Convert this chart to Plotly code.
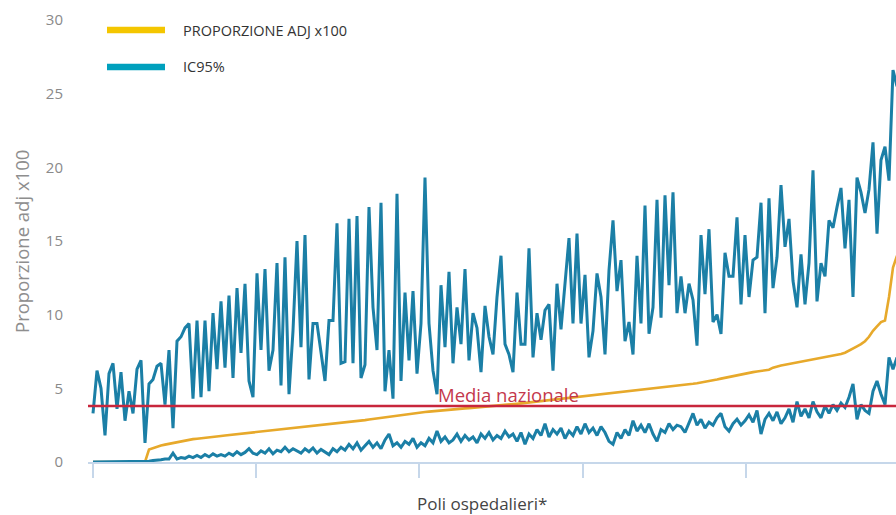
import plotly.graph_objects as go

# ---- data ----
proporzione = [
    0, 0, 0, 0, 0, 0, 0, 0, 0, 0, 0, 0, 0, 0,
    0.85, 0.95, 1.05, 1.12, 1.18, 1.24, 1.3, 1.35, 1.4, 1.45, 1.5, 1.55, 1.58, 1.62, 1.65, 1.68,
    1.71, 1.74, 1.77, 1.8, 1.83, 1.86, 1.89, 1.92, 1.95, 1.98, 2.0, 2.03, 2.06, 2.08, 2.1, 2.13,
    2.16, 2.19, 2.22, 2.25, 2.28, 2.31, 2.34, 2.37, 2.4, 2.43, 2.46, 2.48, 2.5, 2.53, 2.56, 2.59,
    2.62, 2.65, 2.68, 2.72, 2.76, 2.8, 2.84, 2.88, 2.92, 2.96, 3.0, 3.04, 3.08, 3.12, 3.16, 3.2,
    3.24, 3.27, 3.3, 3.33, 3.36, 3.39, 3.42, 3.45, 3.47, 3.5, 3.52, 3.55, 3.57, 3.6, 3.62, 3.64,
    3.66, 3.68, 3.7, 3.72, 3.74, 3.76, 3.78, 3.8, 3.83, 3.86, 3.89, 3.92, 3.95, 3.98, 4.01, 4.04,
    4.07, 4.1, 4.13, 4.16, 4.19, 4.22, 4.25, 4.28, 4.31, 4.34, 4.37, 4.4, 4.43, 4.46, 4.49, 4.52,
    4.55, 4.58, 4.61, 4.64, 4.67, 4.7, 4.73, 4.76, 4.79, 4.82, 4.85, 4.88, 4.91, 4.94, 4.97, 5.0,
    5.03, 5.06, 5.09, 5.12, 5.15, 5.19, 5.23, 5.27, 5.31, 5.35, 5.39, 5.44, 5.49, 5.54, 5.6, 5.66,
    5.72, 5.78, 5.84, 5.9, 5.95, 6.0, 6.05, 6.1, 6.14, 6.18, 6.22, 6.26, 6.4, 6.5, 6.55, 6.6,
    6.65, 6.7, 6.75, 6.8, 6.85, 6.9, 6.95, 7.0, 7.05, 7.1, 7.15, 7.2, 7.26, 7.33, 7.42, 7.55,
    7.7, 7.85, 8.0, 8.2, 8.5, 8.9, 9.2, 9.5, 9.6, 11.2, 13.2, 14.0,
]

ic95_sup = [
    3.3, 6.2, 5.0, 1.8, 6.0, 6.7, 3.6, 6.1, 2.8, 4.8, 3.3, 6.3, 6.9, 1.3,
    5.3, 5.6, 6.5, 6.7, 3.9, 7.6, 2.3, 8.2, 8.5, 9.1, 9.4, 4.3, 9.6, 4.4, 9.6, 4.8,
    10.1, 6.3, 10.9, 6.4, 11.3, 5.7, 11.8, 7.4, 12.1, 5.5, 4.4, 12.8, 7.6, 13.1, 6.2, 7.6,
    13.5, 5.2, 13.9, 4.6, 8.9, 15.0, 7.8, 15.4, 5.6, 9.4, 9.4, 7.4, 5.5, 9.6, 9.6, 16.2,
    6.7, 6.8, 16.5, 6.7, 16.7, 5.7, 6.6, 17.3, 10.5, 7.6, 17.6, 4.8, 7.6, 4.3, 18.2, 5.5,
    11.5, 6.9, 11.6, 6.0, 9.4, 19.3, 9.4, 6.2, 4.6, 12.0, 7.8, 12.9, 6.7, 10.5, 8.0, 13.1,
    6.9, 10.1, 9.1, 6.1, 10.6, 8.5, 7.3, 11.2, 14.0, 8.0, 7.3, 6.1, 11.5, 8.0, 8.0, 14.5,
    7.1, 10.1, 8.3, 10.3, 10.7, 6.2, 12.1, 9.0, 12.2, 15.2, 9.4, 15.5, 9.4, 12.7, 7.1, 8.9,
    12.8, 11.2, 7.3, 13.0, 16.4, 11.6, 13.7, 8.2, 9.5, 7.3, 14.0, 9.4, 17.4, 8.7, 10.5, 17.8,
    9.8, 18.1, 12.0, 18.3, 10.1, 12.6, 10.1, 12.1, 11.0, 7.9, 15.4, 11.4, 15.8, 9.5, 10.0, 8.7,
    14.2, 12.6, 12.6, 16.6, 10.7, 15.4, 11.2, 13.7, 13.9, 17.6, 10.1, 17.9, 11.8, 13.9, 18.8, 14.6,
    16.5, 12.3, 10.5, 14.1, 10.7, 13.5, 19.8, 10.9, 13.5, 12.6, 16.4, 15.9, 17.3, 18.6, 14.5, 17.8,
    11.2, 19.3, 18.3, 16.9, 18.5, 21.7, 15.5, 20.5, 21.4, 19.1, 26.6, 25.5,
]

ic95_inf = [
    0, 0, 0, 0, 0, 0, 0, 0, 0, 0, 0, 0, 0, 0,
    0.05, 0.1, 0.1, 0.15, 0.2, 0.2, 0.6, 0.2, 0.3, 0.25, 0.4, 0.3, 0.45, 0.3, 0.5, 0.35,
    0.55, 0.4, 0.5, 0.4, 0.6, 0.45, 0.7, 0.5, 0.65, 0.9, 0.6, 0.5, 0.75, 0.6, 0.9, 0.55,
    0.8, 0.7, 1.0, 0.7, 0.9, 0.75, 0.6, 0.9, 0.7, 0.95, 0.6, 0.85, 0.7, 0.5, 0.9, 0.7,
    1.0, 0.8, 1.2, 0.9, 1.3, 0.8, 1.1, 1.4, 1.0, 1.3, 0.9, 1.5, 1.9, 1.1, 1.3, 1.0,
    1.4, 1.2, 1.6, 1.0, 1.3, 1.1, 1.6, 1.3, 2.1, 1.4, 1.7, 1.3, 1.5, 1.9, 1.4, 1.8,
    1.5, 1.7, 1.3, 1.9, 1.6, 2.0, 1.5, 1.8, 1.6, 2.1, 1.7, 1.9, 1.4, 2.0, 1.2, 1.9,
    1.6, 2.2, 1.8, 2.6, 1.7, 2.2, 1.9, 2.3, 1.6, 2.1, 1.8, 2.4, 1.9, 2.6, 2.0, 2.3,
    1.8, 2.4, 2.0, 1.4, 1.2, 2.0, 1.6, 2.2, 1.8, 2.8, 2.1, 2.5, 2.0, 2.6, 1.9, 1.4,
    2.2, 2.0, 2.6, 2.2, 2.5, 2.4, 2.0, 2.7, 3.3, 2.5, 2.9, 2.3, 2.7, 2.5, 3.0, 3.3,
    2.4, 2.1, 2.6, 2.9, 2.5, 2.8, 3.2, 2.7, 3.5, 1.9, 2.9, 3.3, 2.8, 3.4, 2.6, 3.0,
    3.6, 2.7, 4.1, 3.1, 3.6, 3.0, 4.1, 3.4, 3.0, 3.8, 3.3, 3.9, 3.5, 4.0, 3.7, 4.4,
    5.3, 2.9, 3.9, 3.5, 3.3, 4.8, 5.5, 4.6, 3.9, 7.1, 6.3, 7.1,
]

media_nazionale = 3.8
y_ticks = [0, 5, 10, 15, 20, 25, 30]
x_ticks = [0, 40.8, 81.6, 122.4, 163.2]
poli = list(range(len(proporzione)))

BLUE = "#1b7fa6"
ORANGE = "#e7a92b"
RED = "#c8263c"

PW, PH = 808.0, 442.0          # plot area size
PL, PT = 88.0, 20.0            # plot area left/top in page pixels
def px_x(X):
    return (X - PL) / PW
def px_y(Y):
    return (PT + PH - Y) / PH

fig = go.Figure()
fig.add_trace(go.Scatter(x=poli, y=proporzione, mode="lines",
                         line=dict(color=ORANGE, width=2.6), name="PROPORZIONE ADJ x100",
                         showlegend=False, hoverinfo="skip"))
fig.add_trace(go.Scatter(x=poli, y=ic95_inf, mode="lines",
                         line=dict(color=BLUE, width=3), name="IC95%",
                         showlegend=False, hoverinfo="skip"))
fig.add_trace(go.Scatter(x=poli, y=ic95_sup, mode="lines",
                         line=dict(color=BLUE, width=3), name="IC95%",
                         showlegend=False, hoverinfo="skip"))

# national mean line
fig.add_shape(type="line", xref="paper", x0=0, x1=1, yref="y",
              y0=media_nazionale, y1=media_nazionale,
              line=dict(color=RED, width=2.6), layer="above")
fig.add_annotation(x=85.8, y=media_nazionale, xref="x", yref="y",
                   text="Media nazionale", showarrow=False,
                   xanchor="left", yanchor="bottom", yshift=-3,
                   font=dict(family="Open Sans", size=18.5, color="#c4384c"))

# custom legend
legend_items = [("PROPORZIONE ADJ x100", "#f4c600", 30), ("IC95%", "#00a0bd", 67)]
for label, col, ypx in legend_items:
    yp = px_y(ypx)
    fig.add_shape(type="line", xref="paper", yref="paper",
                  x0=px_x(107), x1=px_x(165), y0=yp, y1=yp,
                  line=dict(color=col, width=6.5))
    fig.add_annotation(xref="paper", yref="paper", x=px_x(181), y=yp,
                       text=label, showarrow=False, xanchor="left", yanchor="middle",
                       font=dict(family="Open Sans", size=14.5, color="#333333"))

# axis titles
fig.add_annotation(xref="paper", yref="paper", x=px_x(482), y=px_y(503),
                   text="Poli ospedalieri*", showarrow=False, xanchor="center", yanchor="middle",
                   font=dict(family="Open Sans", size=17, color="#444444"))
fig.add_annotation(xref="paper", yref="paper", x=px_x(21), y=px_y(242),
                   text="Proporzione adj x100", showarrow=False, textangle=-90,
                   xanchor="center", yanchor="middle",
                   font=dict(family="Open Sans", size=18.5, color="#8e8e8e"))

fig.update_layout(
    width=896, height=515,
    margin=dict(l=88, r=0, t=20, b=53),
    paper_bgcolor="white", plot_bgcolor="white",
    showlegend=False,
    xaxis=dict(range=[-1.25, 200.75], tickvals=x_ticks, ticktext=[""] * len(x_ticks),
               ticks="outside", ticklen=14, tickwidth=1.5, tickcolor="#c6d7ea",
               showline=True, linecolor="#c6d7ea", linewidth=2,
               showgrid=False, zeroline=False, fixedrange=True),
    yaxis=dict(range=[0, 30], tickvals=y_ticks, showgrid=False, zeroline=False,
               showline=False, ticks="", ticklabelstandoff=24,
               tickfont=dict(family="Open Sans", size=15, color="#8a8a8a"),
               fixedrange=True),
)

fig.write_html("out.html", config={"displayModeBar": False})

# remove the default page margin so the figure fills the 896x515 window exactly
with open("out.html", "r", encoding="utf-8") as f:
    html = f.read()
html = html.replace("<head>", "<head><style>html,body{margin:0;padding:0;overflow:hidden;}</style>", 1)
with open("out.html", "w", encoding="utf-8") as f:
    f.write(html)
